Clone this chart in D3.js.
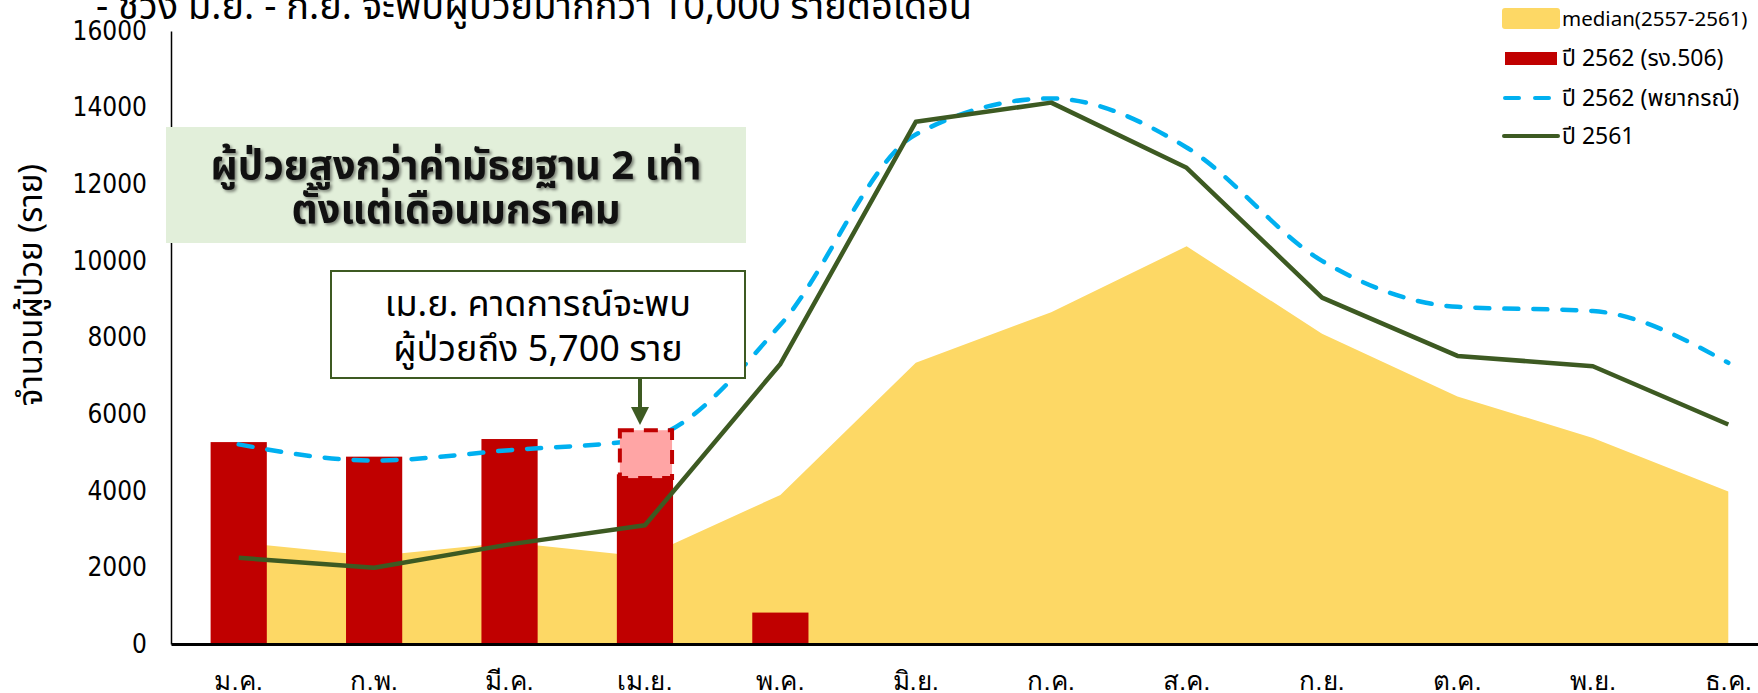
<!DOCTYPE html>
<html>
<head>
<meta charset="utf-8">
<script src="https://cdn.jsdelivr.net/npm/d3@7"></script>
<style>
  body { margin: 0; background: #fff; }
  svg { display: block; font-family: Tahoma, "Noto Sans Thai", "Noto Sans", sans-serif; }
</style>
</head>
<body>
<div id="chart"></div>
<script>
// months (Thai abbreviations)
const months = ['ม.ค.', 'ก.พ.', 'มี.ค.', 'เม.ย.', 'พ.ค.', 'มิ.ย.', 'ก.ค.', 'ส.ค.', 'ก.ย.', 'ต.ค.', 'พ.ย.', 'ธ.ค.'];

// median 2557-2561 (area)
const median = [2650, 2300, 2650, 2280, 3890, 7340, 8660, 10380, 8100, 6460, 5380, 3980];
// ปี 2562 reported (bars), only Jan-May
const reported = [5270, 4890, 5350, 4430, 820];
// April forecast box [bottom, top]
const aprForecast = [4330, 5580];
// ปี 2562 forecast (dashed)
const forecast = [5210, 4790, 5060, 5350, 8330, 13300, 14240, 12960, 10000, 8800, 8690, 7340];
// ปี 2561 (solid green)
const y2561 = [2250, 1990, 2600, 3100, 7310, 13630, 14130, 12430, 9040, 7520, 7250, 5730];

const yTicks = [0, 2000, 4000, 6000, 8000, 10000, 12000, 14000, 16000];
const legendLabels = ['median(2557-2561)', 'ปี 2562 (รง.506)', 'ปี 2562 (พยากรณ์)', 'ปี 2561'];

const width = 1758, height = 693;
const colMedian = '#FDD865', colBar = '#C00000', colPink = '#FFA5A5',
      colBlue = '#00B0F0', colGreen = '#3D5A22';

const svg = d3.select('#chart').append('svg')
    .attr('width', width)
    .attr('height', height);

const x = d3.scaleBand()
    .domain(months)
    .range([171, 1796]);

const y = d3.scaleLinear()
    .domain([0, 16000])
    .range([644, 31]);

const cx = m => x(m) + x.bandwidth() / 2;
const barW = x.bandwidth() * 0.415;

// title (cut off by the top edge)
svg.append('text')
    .attr('x', 96)
    .attr('y', 19)
    .style('font-size', '38px')
    .text('- ช่วง มิ.ย. - ก.ย. จะพบผู้ป่วยมากกว่า 10,000 รายต่อเดือน');

// median area
const area = d3.area()
    .x((d, i) => cx(months[i]))
    .y0(y(0))
    .y1(d => y(d));
svg.append('path')
    .datum(median)
    .attr('d', area)
    .style('fill', colMedian);

// bars
svg.selectAll('.bar').data(reported).enter().append('rect')
    .attr('class', 'bar')
    .attr('x', (d, i) => cx(months[i]) - barW / 2)
    .attr('y', d => y(d))
    .attr('width', barW)
    .attr('height', d => y(0) - y(d))
    .style('fill', colBar);

// lines
const line = d3.line()
    .x((d, i) => cx(months[i]))
    .y(d => y(d));

svg.append('path')
    .datum(forecast)
    .attr('d', line.curve(d3.curveMonotoneX))
    .style('fill', 'none')
    .style('stroke', colBlue)
    .style('stroke-width', 4.5)
    .style('stroke-dasharray', '14,15')
    .style('stroke-linecap', 'round');

svg.append('path')
    .datum(y2561)
    .attr('d', line.curve(d3.curveLinear))
    .style('fill', 'none')
    .style('stroke', colGreen)
    .style('stroke-width', 4.5)
    .style('stroke-linejoin', 'round');

// April forecast box
svg.append('rect')
    .attr('x', cx('เม.ย.') - barW / 2 + 3)
    .attr('y', y(aprForecast[1]))
    .attr('width', barW - 4)
    .attr('height', y(aprForecast[0]) - y(aprForecast[1]))
    .style('fill', colPink)
    .style('stroke', colBar)
    .style('stroke-width', 4)
    .style('stroke-dasharray', '14,10');

// axes
const yAxis = svg.append('g')
    .attr('transform', 'translate(171,0)')
    .call(d3.axisLeft(y).tickValues(yTicks).tickSize(0).tickPadding(24).tickFormat(d3.format('d')));
yAxis.select('.domain').style('stroke', '#000').style('stroke-width', 1.5);
yAxis.selectAll('text').style('font-size', '26px').style('font-family', 'Tahoma, "DejaVu Sans Condensed", sans-serif').attr('fill', '#000');

const xAxis = svg.append('g')
    .attr('transform', 'translate(0,644)')
    .call(d3.axisBottom(x).tickSize(0).tickPadding(28));
xAxis.select('.domain').style('stroke', '#000').style('stroke-width', 3);
xAxis.selectAll('text').style('font-size', '26px').attr('fill', '#000');

svg.append('text')
    .attr('transform', 'translate(42,285) rotate(-90)')
    .style('text-anchor', 'middle')
    .style('font-size', '33px')
    .text('จำนวนผู้ป่วย (ราย)');

// green note box
const note1 = svg.append('g');
note1.append('rect')
    .attr('x', 166).attr('y', 127)
    .attr('width', 580).attr('height', 116)
    .style('fill', '#E2EFDA');
['ผู้ป่วยสูงกว่าค่ามัธยฐาน 2 เท่า', 'ตั้งแต่เดือนมกราคม'].forEach((t, i) => {
    note1.append('text')
        .attr('x', 456).attr('y', 179 + i * 44)
        .style('text-anchor', 'middle')
        .style('font-size', '40px')
        .style('font-weight', 'bold')
        .style('fill', '#111')
        .style('filter', 'drop-shadow(2px 2px 1.5px rgba(0,0,0,0.45))')
        .text(t);
});

// white note box with arrow
const note2 = svg.append('g');
note2.append('rect')
    .attr('x', 331).attr('y', 271)
    .attr('width', 414).attr('height', 107)
    .style('fill', '#fff')
    .style('stroke', colGreen)
    .style('stroke-width', 2);
['เม.ย. คาดการณ์จะพบ', 'ผู้ป่วยถึง 5,700 ราย'].forEach((t, i) => {
    note2.append('text')
        .attr('x', 538).attr('y', 316 + i * 45)
        .style('text-anchor', 'middle')
        .style('font-size', '36px')
        .text(t);
});
note2.append('line')
    .attr('x1', 640).attr('y1', 378)
    .attr('x2', 640).attr('y2', 410)
    .style('stroke', colGreen)
    .style('stroke-width', 4);
note2.append('path')
    .attr('d', 'M631,407 L649,407 L640,425 Z')
    .style('fill', colGreen);

// legend
const legend = svg.append('g').attr('transform', 'translate(1502,0)');
const legY = [18, 58, 98, 136];
legendLabels.forEach((lab, i) => {
    const g = legend.append('g').attr('transform', `translate(0,${legY[i]})`);
    if (i === 0) {
        g.append('rect').attr('x', 0).attr('y', -10).attr('width', 58).attr('height', 21).attr('rx', 3)
            .style('fill', colMedian);
    } else if (i === 1) {
        g.append('rect').attr('x', 3).attr('y', -6).attr('width', 52).attr('height', 13)
            .style('fill', colBar);
    } else if (i === 2) {
        g.append('line').attr('x1', 3).attr('x2', 55).attr('y1', 0).attr('y2', 0)
            .style('stroke', colBlue).style('stroke-width', 4)
            .style('stroke-dasharray', '14,16').style('stroke-linecap', 'round');
    } else {
        g.append('line').attr('x1', 2).attr('x2', 56).attr('y1', 0).attr('y2', 0)
            .style('stroke', colGreen).style('stroke-width', 4).style('stroke-linecap', 'round');
    }
    g.append('text').attr('x', 60).attr('y', 8)
        .style('font-size', (i === 0 ? 20.5 : 23) + 'px')
        .text(lab);
});
</script>
</body>
</html>
